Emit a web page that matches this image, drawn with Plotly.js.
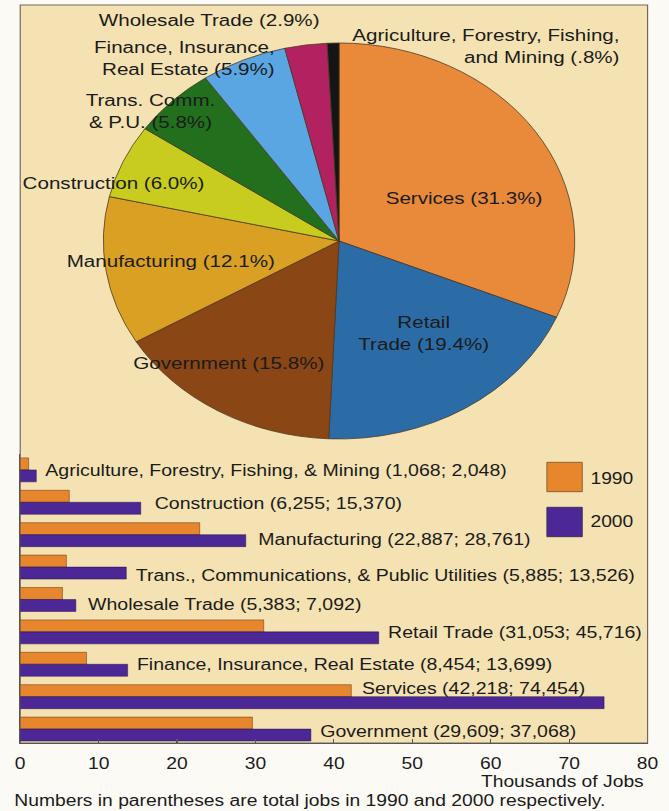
<!DOCTYPE html>
<html>
<head>
<meta charset="utf-8">
<script src="https://cdn.plot.ly/plotly-3.0.1.min.js"></script>
<style>
  html, body { margin: 0; padding: 0; background: #fbfaf5; overflow: hidden; }
  #chart { width: 562px; height: 811px; transform: scaleX(1.19039); transform-origin: 0 0; }
</style>
</head>
<body>
<div id="chart"></div>
<script>
// ---------- DATA ----------
const pieNames = ['Services', 'Retail<br>Trade', 'Government', 'Manufacturing', 'Construction',
  'Trans. Comm.<br>& P.U.', 'Finance, Insurance,<br>Real Estate', 'Wholesale Trade',
  'Agriculture, Forestry, Fishing,<br>and Mining'];
const pieShares = [31.3, 19.4, 15.8, 12.1, 6.0, 5.8, 5.9, 2.9, 0.8];

const barCats = ['Agriculture, Forestry, Fishing, & Mining', 'Construction', 'Manufacturing',
  'Trans., Communications, & Public Utilities', 'Wholesale Trade', 'Retail Trade',
  'Finance, Insurance, Real Estate', 'Services', 'Government'];
const jobs1990 = [1068, 6255, 22887, 5885, 5383, 31053, 8454, 42218, 29609];
const jobs2000 = [2048, 15370, 28761, 13526, 7092, 45716, 13699, 74454, 37068];
const seriesNames = ['1990', '2000'];
const xTicks = [0, 10, 20, 30, 40, 50, 60, 70, 80];

// ---------- STYLE / LAYOUT HELPERS ----------
const pieColors = ['#E88A3A', '#2C6CA6', '#8A4614', '#D9A024', '#C8CC1E', '#22701E', '#5AA6E2', '#B22260', '#151515'];
const barColors = ['#E8862E', '#4B2896'];
const FONT = 'Liberation Sans, Arial, Helvetica, sans-serif';
const TXT = '#1b1b1b';
const W = 562, H = 811;
const S = 669 / W;                 // horizontal stretch applied by CSS
const L = 20.7 / S, R = W - 648 / S, T = 5, B = 68;
const PW = W - L - R, PH = H - T - B;
const px = xs => (xs / S - L) / PW;        // screen x -> paper x
const py = ys => (H - B - ys) / PH;        // screen y -> paper y

const fmt = v => v.toLocaleString('en-US');
const pct = v => { let s = v.toFixed(1); if (s.startsWith('0')) s = s.slice(1); return s + '%'; };

// label placement (screen coords): [x, y, xanchor, align]
const pieLabelPos = [
  [386, 198, 'left', 'left'],
  [424.5, 332.5, 'center', 'center'],
  [134, 363, 'left', 'left'],
  [67, 261, 'left', 'left'],
  [23, 183, 'left', 'left'],
  [151, 111.5, 'center', 'center'],
  [276, 58, 'right', 'right'],
  [99, 20, 'left', 'left'],
  [620, 45.5, 'right', 'right']
];
const barLabelPos = [[46, 470], [155, 503], [259, 539], [136, 575], [88, 604], [388, 632], [137, 664], [362, 688], [321, 731]];

// ---------- TRACES ----------
const pieTrace = {
  type: 'pie',
  values: pieShares,
  labels: pieNames,
  sort: false,
  direction: 'clockwise',
  rotation: 0,
  textinfo: 'none',
  hoverinfo: 'none',
  marker: { colors: pieColors, line: { color: '#4a3520', width: 0.7 } },
  domain: { x: [px(339.5 - 236), px(339.5 + 236)], y: [py(439), py(43)] },
  showlegend: false
};

const bar1990 = {
  type: 'bar', orientation: 'h', name: seriesNames[0],
  y: barCats, x: jobs1990.map(v => v / 1000),
  marker: { color: barColors[0], line: { color: 'rgba(70,40,15,0.7)', width: 0.6 } },
  hoverinfo: 'none', showlegend: false, xaxis: 'x', yaxis: 'y'
};
const bar2000 = {
  type: 'bar', orientation: 'h', name: seriesNames[1],
  y: barCats, x: jobs2000.map(v => v / 1000),
  marker: { color: barColors[1], line: { color: 'rgba(30,10,60,0.7)', width: 0.6 } },
  hoverinfo: 'none', showlegend: false, xaxis: 'x', yaxis: 'y'
};

// ---------- ANNOTATIONS ----------
const annotations = [];
pieNames.forEach((n, i) => {
  const p = pieLabelPos[i];
  annotations.push({
    xref: 'paper', yref: 'paper', x: px(p[0]), y: py(p[1]),
    xanchor: p[2], yanchor: 'middle', align: p[3],
    text: n + ' (' + pct(pieShares[i]) + ')',
    showarrow: false, borderpad: 0, borderwidth: 0,
    font: { family: FONT, size: 17.3, color: TXT }
  });
});
barCats.forEach((c, i) => {
  const p = barLabelPos[i];
  annotations.push({
    xref: 'paper', yref: 'paper', x: px(p[0]), y: py(p[1]),
    xanchor: 'left', yanchor: 'middle',
    text: c + ' (' + fmt(jobs1990[i]) + '; ' + fmt(jobs2000[i]) + ')',
    showarrow: false, borderpad: 0, borderwidth: 0,
    font: { family: FONT, size: 16.4, color: TXT }
  });
});
// legend texts
[[478.3, 0], [521, 1]].forEach(([yy, k]) => {
  annotations.push({
    xref: 'paper', yref: 'paper', x: px(590.7), y: py(yy), xanchor: 'left', yanchor: 'middle',
    text: seriesNames[k], showarrow: false, borderpad: 0, borderwidth: 0,
    font: { family: FONT, size: 16.2, color: TXT }
  });
});
annotations.push({
  xref: 'paper', yref: 'paper', x: px(645), y: py(781), xanchor: 'right', yanchor: 'middle',
  text: 'Thousands of Jobs', showarrow: false, borderpad: 0, borderwidth: 0,
  font: { family: FONT, size: 16.2, color: TXT }
});
annotations.push({
  xref: 'paper', yref: 'paper', x: px(15), y: py(800), xanchor: 'left', yanchor: 'middle',
  text: 'Numbers in parentheses are total jobs in 1990 and 2000 respectively.',
  showarrow: false, borderpad: 0, borderwidth: 0,
  font: { family: FONT, size: 16.2, color: TXT }
});

// ---------- SHAPES ----------
const shapes = [
  { type: 'rect', xref: 'paper', yref: 'paper', x0: 0, x1: 1, y0: 0, y1: 1, layer: 'below',
    fillcolor: '#F5E2B2', line: { color: '#6f6a60', width: 1 } },
  { type: 'rect', xref: 'paper', yref: 'paper', x0: px(547.3), x1: px(582.7), y0: py(491.7), y1: py(462.3),
    fillcolor: barColors[0], line: { color: '#7a5a30', width: 0.8 } },
  { type: 'rect', xref: 'paper', yref: 'paper', x0: px(547.3), x1: px(582.7), y0: py(536.7), y1: py(507.3),
    fillcolor: barColors[1], line: { color: '#3a2a50', width: 0.8 } }
];

const layout = {
  width: W, height: H, autosize: false,
  margin: { l: L, r: R, t: T, b: B, pad: 0 },
  paper_bgcolor: '#fbfaf5', plot_bgcolor: 'rgba(0,0,0,0)',
  font: { family: FONT, color: TXT },
  barmode: 'group', bargap: 0.26, bargroupgap: 0,
  xaxis: {
    domain: [0, 1], anchor: 'y', range: [0, 80], tickvals: xTicks,
    ticks: 'inside', ticklen: 4, tickwidth: 1, tickcolor: '#555',
    showline: true, linecolor: '#555', linewidth: 1,
    showgrid: false, zeroline: false, fixedrange: true,
    tickfont: { family: FONT, size: 16.2, color: TXT }, ticklabelstandoff: 6
  },
  yaxis: {
    domain: [0, py(454)], anchor: 'x', type: 'category',
    categoryorder: 'array', categoryarray: barCats,
    range: [8.43, -0.49], showticklabels: false, ticks: '',
    showgrid: false, zeroline: false, showline: true, linecolor: '#555', fixedrange: true
  },
  shapes: shapes,
  annotations: annotations,
  showlegend: false
};

Plotly.newPlot('chart', [pieTrace, bar1990, bar2000], layout, { displayModeBar: false, staticPlot: true });
</script>
</body>
</html>
